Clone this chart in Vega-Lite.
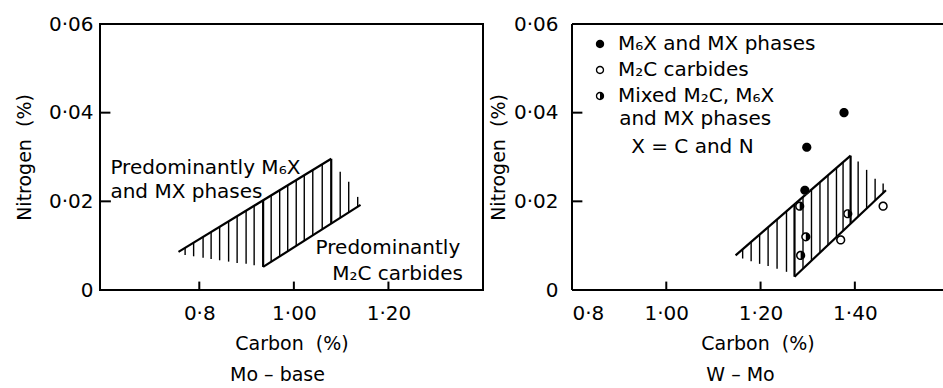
{
  "$schema": "https://vega.github.io/schema/vega-lite/v6.json",
  "background": "white",
  "padding": {"left": 14, "top": 13, "right": 0, "bottom": 0},
  "bounds": "flush",
  "spacing": 89,
  "config": {
    "font": "DejaVu Sans",
    "view": {"stroke": "black", "strokeWidth": 2},
    "axis": {
      "domain": false, "offset": 0, "ticks": false, "tickSize": 0,
      "labelColor": "black", "labelFontSize": 20, "labelFont": "DejaVu Sans",
      "titleColor": "black", "titleFontSize": 19, "titleFontWeight": "normal", "titleFont": "DejaVu Sans",
      "grid": false
    },
    "title": {"fontSize": 19, "fontWeight": "normal", "color": "black", "font": "DejaVu Sans"},
    "text": {"font": "DejaVu Sans", "fontSize": 20, "color": "black"}
  },
  "datasets": {
    "moLines": [
      {"x": 0.756, "y": 0.0086, "x2": 1.079, "y2": 0.0296},
      {"x": 0.935, "y": 0.0052, "x2": 1.141, "y2": 0.0192},
      {"x": 0.935, "y": 0.0052, "x2": 0.935, "y2": 0.0202},
      {"x": 1.079, "y": 0.0150, "x2": 1.079, "y2": 0.0296}
    ],
    "moTicks": [
      {"x": 0.8, "y": 0, "x2": 0.8, "y2": 0.0019},
      {"x": 1.0, "y": 0, "x2": 1.0, "y2": 0.0019},
      {"x": 1.2, "y": 0, "x2": 1.2, "y2": 0.0019},
      {"x": 0.59, "y": 0.02, "x2": 0.613, "y2": 0.02},
      {"x": 0.59, "y": 0.04, "x2": 0.612, "y2": 0.04}
    ],
    "moHatch": [
      {"x": 0.770, "y": 0.0079, "x2": 0.770, "y2": 0.0095},
      {"x": 0.788, "y": 0.0076, "x2": 0.788, "y2": 0.0107},
      {"x": 0.808, "y": 0.0073, "x2": 0.808, "y2": 0.0120},
      {"x": 0.825, "y": 0.0070, "x2": 0.825, "y2": 0.0131},
      {"x": 0.843, "y": 0.0067, "x2": 0.843, "y2": 0.0143},
      {"x": 0.862, "y": 0.0064, "x2": 0.862, "y2": 0.0155},
      {"x": 0.880, "y": 0.0061, "x2": 0.880, "y2": 0.0167},
      {"x": 0.899, "y": 0.0059, "x2": 0.899, "y2": 0.0179},
      {"x": 0.916, "y": 0.0056, "x2": 0.916, "y2": 0.0190},
      {"x": 0.952, "y": 0.0064, "x2": 0.952, "y2": 0.0213},
      {"x": 0.970, "y": 0.0076, "x2": 0.970, "y2": 0.0225},
      {"x": 0.987, "y": 0.0087, "x2": 0.987, "y2": 0.0236},
      {"x": 1.005, "y": 0.0099, "x2": 1.005, "y2": 0.0248},
      {"x": 1.022, "y": 0.0111, "x2": 1.022, "y2": 0.0259},
      {"x": 1.040, "y": 0.0123, "x2": 1.040, "y2": 0.0271},
      {"x": 1.060, "y": 0.0137, "x2": 1.060, "y2": 0.0284},
      {"x": 1.098, "y": 0.0163, "x2": 1.098, "y2": 0.0267},
      {"x": 1.116, "y": 0.0175, "x2": 1.116, "y2": 0.0244},
      {"x": 1.135, "y": 0.0188, "x2": 1.135, "y2": 0.0210}
    ],
    "moNotes": [
      {"x": 0.612, "y": 0.0276, "label": "Predominantly M₆X"},
      {"x": 0.612, "y": 0.0221, "label": "and MX phases"},
      {"x": 1.046, "y": 0.0095, "label": "Predominantly"},
      {"x": 1.081, "y": 0.0036, "label": "M₂C carbides"}
    ],
    "wmLines": [
      {"x": 1.147, "y": 0.0078, "x2": 1.391, "y2": 0.0303},
      {"x": 1.272, "y": 0.0030, "x2": 1.466, "y2": 0.0225},
      {"x": 1.272, "y": 0.0030, "x2": 1.272, "y2": 0.0193},
      {"x": 1.391, "y": 0.0150, "x2": 1.391, "y2": 0.0303}
    ],
    "wmFrame": [
      {"x": 0.8, "y": 0, "x2": 1.587, "y2": 0},
      {"x": 0.8, "y": 0.06, "x2": 1.587, "y2": 0.06},
      {"x": 0.8, "y": 0, "x2": 0.8, "y2": 0.06}
    ],
    "wmTicks": [
      {"x": 1.0, "y": 0, "x2": 1.0, "y2": 0.0019},
      {"x": 1.2, "y": 0, "x2": 1.2, "y2": 0.0019},
      {"x": 1.4, "y": 0, "x2": 1.4, "y2": 0.0019},
      {"x": 0.8, "y": 0.02, "x2": 0.822, "y2": 0.02},
      {"x": 0.8, "y": 0.04, "x2": 0.822, "y2": 0.04}
    ],
    "wmHatch": [
      {"x": 1.162, "y": 0.0071, "x2": 1.162, "y2": 0.0092},
      {"x": 1.180, "y": 0.0065, "x2": 1.180, "y2": 0.0108},
      {"x": 1.198, "y": 0.0059, "x2": 1.198, "y2": 0.0125},
      {"x": 1.216, "y": 0.0054, "x2": 1.216, "y2": 0.0142},
      {"x": 1.235, "y": 0.0048, "x2": 1.235, "y2": 0.0159},
      {"x": 1.255, "y": 0.0041, "x2": 1.255, "y2": 0.0178},
      {"x": 1.290, "y": 0.0048, "x2": 1.290, "y2": 0.0210},
      {"x": 1.308, "y": 0.0066, "x2": 1.308, "y2": 0.0226},
      {"x": 1.326, "y": 0.0084, "x2": 1.326, "y2": 0.0243},
      {"x": 1.343, "y": 0.0101, "x2": 1.343, "y2": 0.0259},
      {"x": 1.361, "y": 0.0119, "x2": 1.361, "y2": 0.0275},
      {"x": 1.375, "y": 0.0133, "x2": 1.375, "y2": 0.0288},
      {"x": 1.407, "y": 0.0166, "x2": 1.407, "y2": 0.0290},
      {"x": 1.425, "y": 0.0184, "x2": 1.425, "y2": 0.0271},
      {"x": 1.443, "y": 0.0202, "x2": 1.443, "y2": 0.0251},
      {"x": 1.460, "y": 0.0219, "x2": 1.460, "y2": 0.0240}
    ],
    "wmNotes": [
      {"x": 0.900, "y": 0.0386, "label": "and MX phases"},
      {"x": 0.9255, "y": 0.0322, "label": "X = C and N"}
    ],
    "wmPoints": [
      {"x": 1.377, "y": 0.0400, "phase": "M₆X and MX phases"},
      {"x": 1.298, "y": 0.0322, "phase": "M₆X and MX phases"},
      {"x": 1.294, "y": 0.0225, "phase": "M₆X and MX phases"},
      {"x": 1.370, "y": 0.0113, "phase": "M₂C carbides"},
      {"x": 1.460, "y": 0.0189, "phase": "M₂C carbides"},
      {"x": 1.283, "y": 0.0189, "phase": "Mixed M₂C, M₆X"},
      {"x": 1.296, "y": 0.0120, "phase": "Mixed M₂C, M₆X"},
      {"x": 1.285, "y": 0.0078, "phase": "Mixed M₂C, M₆X"},
      {"x": 1.385, "y": 0.0172, "phase": "Mixed M₂C, M₆X"}
    ]
  },
  "hconcat": [
    {
      "width": 383,
      "height": 266,
      "title": {"text": "Mo – base", "orient": "bottom", "anchor": "middle", "dx": -14, "offset": 13},
      "layer": [
        {
          "data": {"name": "moHatch"},
          "mark": {"type": "rule", "strokeWidth": 1.4, "color": "black"},
          "encoding": {
            "x": {"field": "x", "type": "quantitative",
                  "scale": {"domain": [0.59, 1.4], "nice": false, "zero": false},
                  "axis": {"title": "Carbon\u00a0 (%)", "values": [0.8, 1.0, 1.2],
                           "labelExpr": "datum.value < 0.9 ? '0·8' : replace(format(datum.value, '.2f'), '.', '·')",
                           "labelPadding": 13, "titlePadding": 11}},
            "x2": {"field": "x2"},
            "y": {"field": "y", "type": "quantitative",
                  "scale": {"domain": [0, 0.06], "nice": false, "zero": true},
                  "axis": {"title": "Nitrogen\u00a0 (%)", "values": [0, 0.02, 0.04, 0.06],
                           "labelExpr": "datum.value == 0 ? '0' : replace(format(datum.value, '.2f'), '.', '·')",
                           "labelPadding": 7, "titlePadding": 14}},
            "y2": {"field": "y2"}
          }
        },
        {
          "data": {"name": "moLines"},
          "mark": {"type": "rule", "strokeWidth": 2.2, "color": "black"},
          "encoding": {
            "x": {"field": "x", "type": "quantitative"},
            "x2": {"field": "x2"},
            "y": {"field": "y", "type": "quantitative"},
            "y2": {"field": "y2"}
          }
        },
        {
          "data": {"name": "moTicks"},
          "mark": {"type": "rule", "strokeWidth": 2, "color": "black"},
          "encoding": {
            "x": {"field": "x", "type": "quantitative"},
            "x2": {"field": "x2"},
            "y": {"field": "y", "type": "quantitative"},
            "y2": {"field": "y2"}
          }
        },
        {
          "data": {"name": "moNotes"},
          "mark": {"type": "text", "align": "left", "baseline": "middle", "fontSize": 20},
          "encoding": {
            "x": {"field": "x", "type": "quantitative"},
            "y": {"field": "y", "type": "quantitative"},
            "text": {"field": "label"}
          }
        }
      ]
    },
    {
      "width": 371,
      "height": 266,
      "view": {"stroke": null},
      "title": {"text": "W – Mo", "orient": "bottom", "anchor": "middle", "dx": -17, "offset": 13},
      "layer": [
        {
          "data": {"name": "wmHatch"},
          "mark": {"type": "rule", "strokeWidth": 1.4, "color": "black"},
          "encoding": {
            "x": {"field": "x", "type": "quantitative",
                  "scale": {"domain": [0.8, 1.587], "nice": false, "zero": false},
                  "axis": {"title": "Carbon\u00a0 (%)", "values": [0.8, 1.0, 1.2, 1.4],
                           "labelExpr": "datum.value < 0.9 ? '0·8' : replace(format(datum.value, '.2f'), '.', '·')",
                           "labelPadding": 13, "titlePadding": 11}},
            "x2": {"field": "x2"},
            "y": {"field": "y", "type": "quantitative",
                  "scale": {"domain": [0, 0.06], "nice": false, "zero": true},
                  "axis": {"title": "Nitrogen\u00a0 (%)", "values": [0, 0.02, 0.04, 0.06],
                           "labelExpr": "datum.value == 0 ? '0' : replace(format(datum.value, '.2f'), '.', '·')",
                           "labelPadding": 14, "titlePadding": 5}},
            "y2": {"field": "y2"}
          }
        },
        {
          "data": {"name": "wmLines"},
          "mark": {"type": "rule", "strokeWidth": 2.2, "color": "black"},
          "encoding": {
            "x": {"field": "x", "type": "quantitative"},
            "x2": {"field": "x2"},
            "y": {"field": "y", "type": "quantitative"},
            "y2": {"field": "y2"}
          }
        },
        {
          "data": {"name": "wmFrame"},
          "mark": {"type": "rule", "strokeWidth": 2, "color": "black"},
          "encoding": {
            "x": {"field": "x", "type": "quantitative"},
            "x2": {"field": "x2"},
            "y": {"field": "y", "type": "quantitative"},
            "y2": {"field": "y2"}
          }
        },
        {
          "data": {"name": "wmTicks"},
          "mark": {"type": "rule", "strokeWidth": 2, "color": "black"},
          "encoding": {
            "x": {"field": "x", "type": "quantitative"},
            "x2": {"field": "x2"},
            "y": {"field": "y", "type": "quantitative"},
            "y2": {"field": "y2"}
          }
        },
        {
          "data": {"name": "wmNotes"},
          "mark": {"type": "text", "align": "left", "baseline": "middle", "fontSize": 20},
          "encoding": {
            "x": {"field": "x", "type": "quantitative"},
            "y": {"field": "y", "type": "quantitative"},
            "text": {"field": "label"}
          }
        },
        {
          "data": {"name": "wmPoints"},
          "mark": {"type": "point", "shape": "circle", "filled": true, "fill": "white", "strokeWidth": 0, "size": 75, "opacity": 1},
          "encoding": {
            "x": {"field": "x", "type": "quantitative"},
            "y": {"field": "y", "type": "quantitative"}
          }
        },
        {
          "data": {"name": "wmPoints"},
          "mark": {"type": "point", "filled": true, "fill": "black", "strokeWidth": 0, "size": 85, "opacity": 1},
          "encoding": {
            "x": {"field": "x", "type": "quantitative"},
            "y": {"field": "y", "type": "quantitative"},
            "shape": {
              "field": "phase", "type": "nominal",
              "scale": {
                "domain": ["M₆X and MX phases", "M₂C carbides", "Mixed M₂C, M₆X"],
                "range": [
                  "M1,0A1,1 0 1,1 -1,0A1,1 0 1,1 1,0Z",
                  "M1,0A1,1 0 1,1 -1,0A1,1 0 1,1 1,0Z M0.68,0A0.68,0.68 0 1,0 -0.68,0A0.68,0.68 0 1,0 0.68,0Z",
                  "M1,0A1,1 0 1,1 -1,0A1,1 0 1,1 1,0Z M0.68,0A0.68,0.68 0 1,0 -0.68,0A0.68,0.68 0 1,0 0.68,0Z M0,-0.68A0.68,0.68 0 0,1 0,0.68Z"
                ]
              },
              "legend": {
                "orient": "none", "legendX": 490, "legendY": 10, "title": null,
                "labelFontSize": 20, "labelFont": "DejaVu Sans", "labelColor": "black", "labelOffset": 8,
                "symbolSize": 70, "rowPadding": 6, "symbolFillColor": "black", "symbolStrokeWidth": 0,
                "labelLimit": 400
              }
            }
          }
        }
      ]
    }
  ]
}
